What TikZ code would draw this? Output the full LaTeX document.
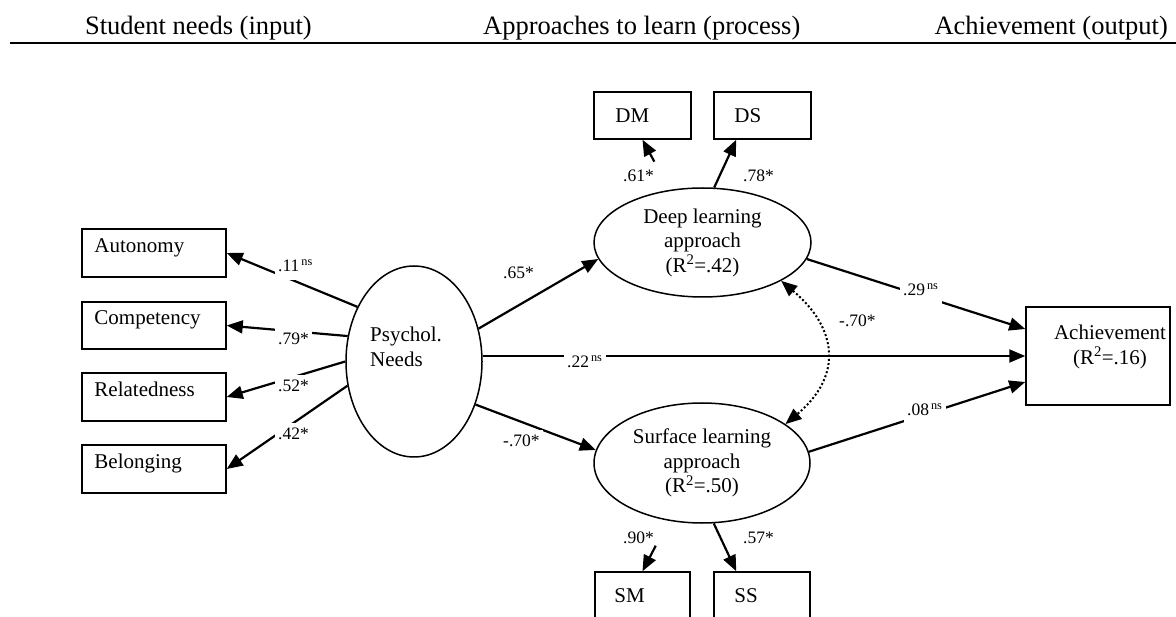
\documentclass[tikz,border=0pt]{standalone}
\usepackage{fontspec}
\setmainfont{Liberation Serif}
\usetikzlibrary{arrows.meta,shapes.geometric,calc}
\newcommand\nsup{\textsuperscript{\,ns}}
\begin{document}
\begin{tikzpicture}[x=1pt,y=-1pt,
  nbox/.style={draw, line width=1.5pt, inner sep=0pt, minimum height=47pt},
  ell/.style={draw, ellipse, line width=1.5pt, inner sep=0pt, align=center, font=\fontsize{21}{24.5}\selectfont},
  txt/.style={font=\fontsize{21}{24.5}\selectfont, inner sep=0pt},
  hdr/.style={font=\fontsize{26.5}{30}\selectfont, inner sep=0pt},
  lab/.style={font=\fontsize{17.5}{21}\selectfont, fill=white, inner xsep=3pt, inner ysep=2pt, anchor=base west, xshift=-3pt},
  arr/.style={line width=2.2pt, -{Triangle[length=16pt,width=13pt]}},
  dotline/.style={line width=2pt, dash pattern=on 2pt off 2.2pt, {Triangle[length=16pt,width=13pt]}-{Triangle[length=16pt,width=13pt]}}
]
\useasboundingbox (0,0) rectangle (1176,617);
% header
\node[hdr, anchor=base east] (h1) at (312,35) {Student needs (input)};
\node[hdr, anchor=base west] (h2) at (483,35) {Approaches to learn (process)};
\node[hdr, anchor=base east] (h3) at (1168,35) {Achievement (output)};
\draw[line width=2.5pt] (10,43) -- (1176,43);

% left boxes
\node[nbox, minimum width=144pt, minimum height=48pt] (aut) at (154,253) {};
\node[txt, anchor=base west] at ($(aut.north west)+(13,24)$) {Autonomy};
\node[nbox, minimum width=144pt] (comp) at (154,325.5) {};
\node[txt, anchor=base west] at ($(comp.north west)+(13,23)$) {Competency};
\node[nbox, minimum width=144pt, minimum height=48pt] (rel) at (154,397) {};
\node[txt, anchor=base west] at ($(rel.north west)+(13,24)$) {Relatedness};
\node[nbox, minimum width=144pt, minimum height=48pt] (bel) at (154,469) {};
\node[txt, anchor=base west] at ($(bel.north west)+(13,24)$) {Belonging};

% indicator boxes
\node[nbox, minimum width=97pt] (dm) at (642.5,115.5) {};
\node[txt, anchor=base west] at ($(dm.north west)+(22,31)$) {DM};
\node[nbox, minimum width=97pt] (ds) at (762.5,115.5) {};
\node[txt, anchor=base west] at ($(ds.north west)+(21,31)$) {DS};
\node[nbox, minimum width=95pt] (sm) at (642.5,595.5) {};
\node[txt, anchor=base west] at ($(sm.north west)+(20,31)$) {SM};
\node[nbox, minimum width=96pt] (ss) at (762,595.5) {};
\node[txt, anchor=base west] at ($(ss.north west)+(21,31)$) {SS};

% achievement
\node[nbox, minimum width=144pt, minimum height=98pt] (ach) at (1098,356) {};
\node[txt, align=center] at (1110,347) {Achievement\\(R\textsuperscript{2}=.16)};

% ellipses
\node[ell, minimum width=136pt, minimum height=191pt] (psy) at (414,361.5) {};
\node[txt, align=left, anchor=west] at (370,347) {Psychol.\\Needs};
\node[ell, minimum width=217pt, minimum height=109pt] (deep) at (702.5,242.5) {Deep learning\\approach\\(R\textsuperscript{2}=.42)};
\node[ell, minimum width=216pt, minimum height=120pt] (surf) at (702,463) {Surface learning\\approach\\(R\textsuperscript{2}=.50)};

% connectors
\draw[arr] (psy.136.5) -- (aut.east);
\draw[arr] (psy.159.5) -- (comp.east);
\draw[arr] (psy.180) -- (rel.east);
\draw[arr] (psy.200.5) -- (bel.east);
\draw[arr] (psy.27) -- (deep.189);
\draw[arr] (psy.east |- ach.west) -- (ach.west);
\draw[arr] (psy.-35) -- (surf.173);
\draw[arr, shorten <=32pt] (deep.122.6) -- (dm.south);
\draw[arr] (deep.78) -- ([xshift=23pt]ds.south west);
\draw[arr, shorten <=28pt] (surf.240) -- (sm.north);
\draw[arr] (surf.281) -- ([xshift=23pt]ss.north west);
\draw[arr] (deep.-9) -- ([yshift=27pt]ach.west);
\draw[arr] (surf.6.4) -- ([yshift=-26pt]ach.west);
\draw[dotline] (deep.-26.4) .. controls +(57,48) and +(57,-48) .. (surf.25);

% labels
\node[lab] at (278,272) {.11\nsup\strut};
\node[lab] at (278,345) {.79*\strut};
\node[lab] at (278,392) {.52*\strut};
\node[lab] at (278,440) {.42*\strut};
\node[lab] at (503,279) {.65*};
\node[lab] at (567,368) {.22\nsup\strut};
\node[lab] at (503,447) {-.70*\strut};
\node[lab] at (623,182) {.61*};
\node[lab] at (743,182) {.78*};
\node[lab] at (623,543) {.90*};
\node[lab] at (743,543) {.57*};
\node[lab] at (903,296) {.29\nsup\strut};
\node[lab] at (907,416) {.08\nsup\strut};
\node[lab] at (839,327) {-.70*};
\end{tikzpicture}
\end{document}
